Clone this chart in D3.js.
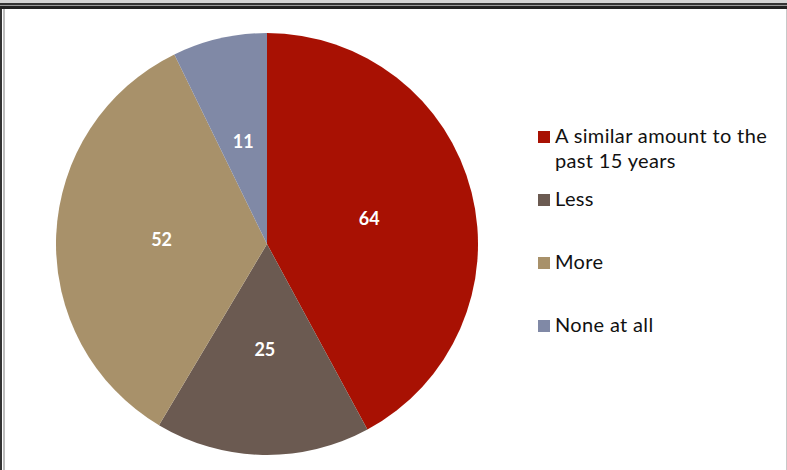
<!DOCTYPE html>
<html>
<head>
<meta charset="utf-8">
<script src="https://cdnjs.cloudflare.com/ajax/libs/d3/7.8.5/d3.min.js"></script>
<style>
  html, body { margin: 0; padding: 0; background: #fff; }
  svg { display: block; }
</style>
</head>
<body>
<div id="chart"></div>
<script>
// chart data
var categories = ['A similar amount to the past 15 years', 'Less', 'More', 'None at all'];
var counts = [64, 25, 52, 11];
var colours = ['#a81103', '#6b5a51', '#a8916a', '#8089a6'];
var legendLines = [['A similar amount to the', 'past 15 years'], ['Less'], ['More'], ['None at all']];

var width = 787, height = 470;
var svg = d3.select('#chart').append('svg')
    .attr('width', width)
    .attr('height', height);

// frame lines (top double rule, left and right edges)
svg.append('rect').attr('x', 0).attr('y', 0).attr('width', width).attr('height', 3).style('fill', '#d4d4d4');
svg.append('rect').attr('x', 0).attr('y', 3).attr('width', width).attr('height', 2).style('fill', '#333');
svg.append('rect').attr('x', 0).attr('y', 5).attr('width', width).attr('height', 1).style('fill', '#9a9a9a');
svg.append('rect').attr('x', 0).attr('y', 6).attr('width', width).attr('height', 3).style('fill', '#222');
svg.append('rect').attr('x', 0).attr('y', 9).attr('width', 2).attr('height', height - 9).style('fill', '#333');
svg.append('rect').attr('x', 3).attr('y', 9).attr('width', 2).attr('height', height - 9).style('fill', '#bdbdbd');
svg.append('rect').attr('x', 786).attr('y', 9).attr('width', 1).attr('height', height - 9).style('fill', '#c8c8c8');

var data = categories.map(function (c, i) {
    return { name: c, value: counts[i], colour: colours[i], lines: legendLines[i] };
});

var radius = 211;
var pie = d3.pie().sort(null).value(function (d) { return d.value; });
var arc = d3.arc().innerRadius(0).outerRadius(radius);

var g = svg.append('g').attr('transform', 'translate(267,244)');
var arcs = pie(data);

g.selectAll('path.slice').data(arcs).enter().append('path')
    .classed('slice', true)
    .attr('d', arc)
    .style('fill', function (d) { return d.data.colour; });

g.selectAll('text.lbl').data(arcs).enter().append('text')
    .classed('lbl', true)
    .attr('x', function (d) { return arc.centroid(d)[0]; })
    .attr('y', function (d) { return arc.centroid(d)[1]; })
    .attr('dy', '0.36em')
    .attr('text-anchor', 'middle')
    .style('font-family', 'Lato, "DejaVu Sans", sans-serif')
    .style('font-weight', 'bold')
    .style('font-size', '18px')
    .style('fill', '#fff')
    .text(function (d) { return d.data.value; });

// legend
var legendY = d3.scalePoint().domain(categories).range([143, 332]);
var legend = svg.append('g');
var item = legend.selectAll('g.item').data(data).enter().append('g')
    .classed('item', true)
    .attr('transform', function (d) { return 'translate(538,' + legendY(d.name) + ')'; });

item.append('rect')
    .attr('x', 0).attr('y', -12)
    .attr('width', 12).attr('height', 12)
    .style('fill', function (d) { return d.colour; });

item.append('text')
    .attr('x', 17)
    .style('font-family', 'Lato, "DejaVu Sans", sans-serif')
    .style('font-size', '20px')
    .style('letter-spacing', '0.35px')
    .style('fill', '#111')
    .selectAll('tspan').data(function (d) { return d.lines; }).enter().append('tspan')
    .attr('x', 17)
    .attr('dy', function (d, i) { return i === 0 ? 0 : 25; })
    .text(function (d) { return d; });
</script>
</body>
</html>
